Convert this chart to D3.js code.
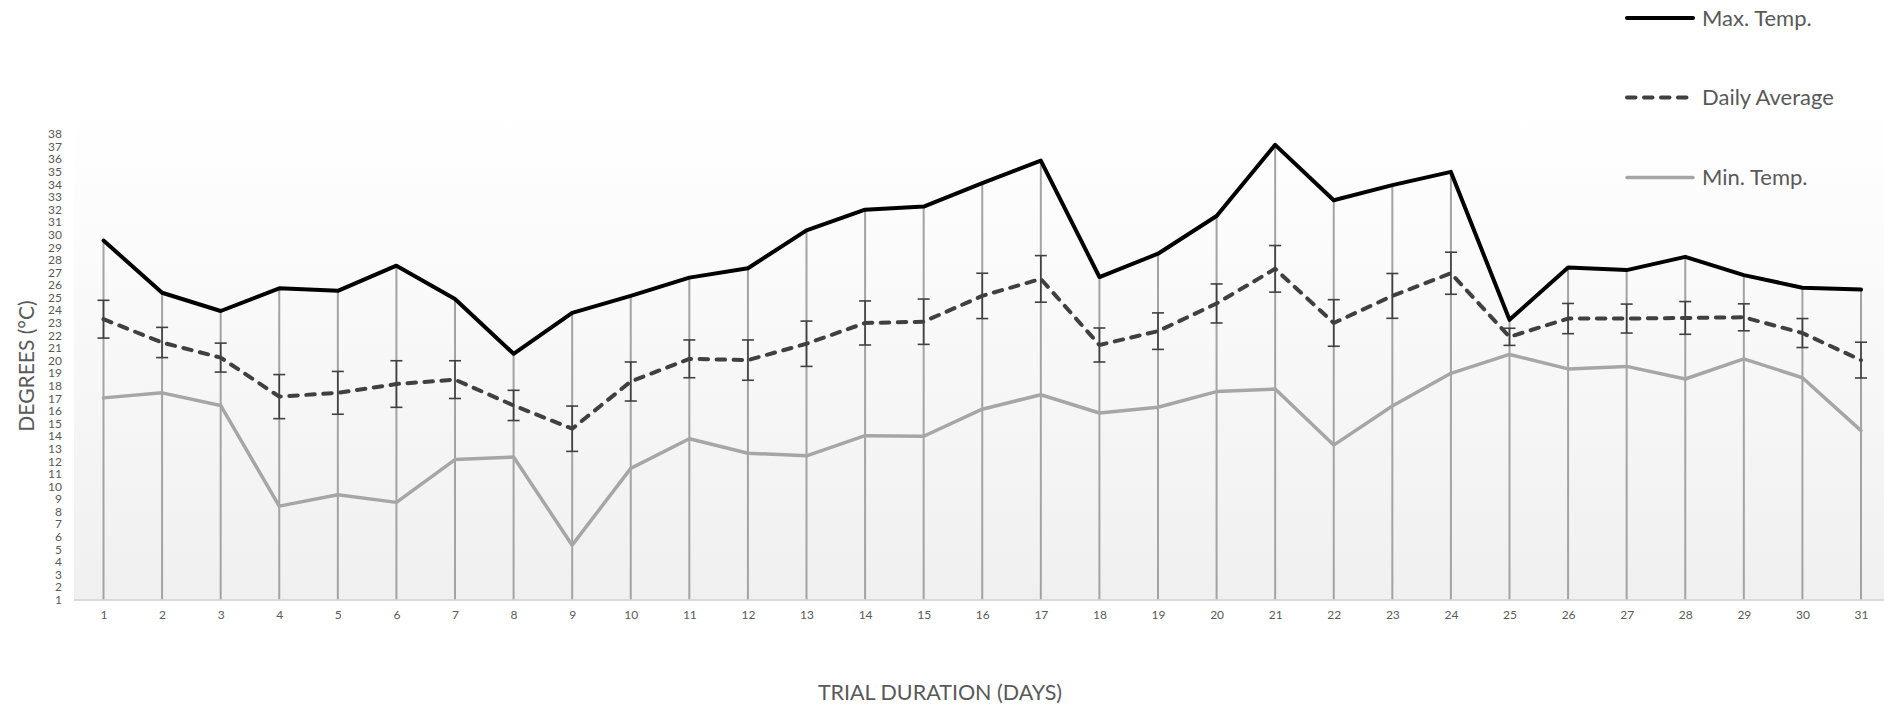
<!DOCTYPE html>
<html>
<head>
<meta charset="utf-8">
<script src="https://cdn.jsdelivr.net/npm/d3@7"></script>
<style>
  html, body { margin: 0; padding: 0; background: #ffffff; }
  svg { display: block; }
  text { font-family: Lato, "Noto Sans", sans-serif; fill: #595959; }
</style>
</head>
<body>
<svg id="chart" width="1884" height="706"></svg>
<script>
// ---- data ----
const days = d3.range(1, 32);
const maxTemp = [29.5, 25.35, 23.9, 25.7, 25.5, 27.5, 24.85, 20.5, 23.75, 25.1,
                 26.55, 27.3, 30.3, 31.95, 32.2, 34.05, 35.85, 26.6, 28.45, 31.45,
                 37.1, 32.7, 33.9, 34.95, 23.2, 27.35, 27.15, 28.2, 26.75, 25.75, 25.6];
const avgTemp = [23.25, 21.4, 20.2, 17.1, 17.4, 18.1, 18.45, 16.4, 14.55, 18.3,
                 20.1, 20.0, 21.3, 22.95, 23.05, 25.1, 26.45, 21.2, 22.3, 24.5,
                 27.25, 22.95, 25.1, 26.9, 21.85, 23.3, 23.3, 23.35, 23.4, 22.15, 20.0];
const avgErr  = [1.5, 1.2, 1.15, 1.75, 1.7, 1.85, 1.5, 1.2, 1.8, 1.55,
                 1.5, 1.6, 1.8, 1.75, 1.8, 1.8, 1.85, 1.35, 1.45, 1.55,
                 1.85, 1.85, 1.78, 1.67, 0.68, 1.2, 1.15, 1.3, 1.07, 1.15, 1.42];
const minTemp = [17.0, 17.4, 16.4, 8.4, 9.3, 8.7, 12.1, 12.3, 5.3, 11.4,
                 13.75, 12.6, 12.4, 14.0, 13.95, 16.1, 17.25, 15.8, 16.25, 17.5,
                 17.7, 13.25, 16.35, 18.95, 20.45, 19.3, 19.5, 18.5, 20.1, 18.6, 14.4];
const yTicks = d3.range(1, 39);
const seriesNames = ["Max. Temp.", "Daily Average", "Min. Temp."];
const xTitle = "TRIAL DURATION (DAYS)";
const yTitle = "DEGREES (°C)";

// ---- layout ----
const svg = d3.select("#chart");
const plotLeft = 74, plotRight = 1884, plotTop = 110, plotBottom = 599.5;

const x = d3.scalePoint().domain(days).range([103.5, 1861]);
const y = d3.scaleLinear().domain([1, 38]).range([599.3, 133.5]);

// background gradient
const defs = svg.append("defs");
const grad = defs.append("linearGradient").attr("id", "bg")
  .attr("x1", 0).attr("y1", 0).attr("x2", 0).attr("y2", 1);
grad.append("stop").attr("offset", "0%").attr("stop-color", "#ffffff");
grad.append("stop").attr("offset", "100%").attr("stop-color", "#f0f0f0");
svg.append("rect").attr("x", plotLeft).attr("y", plotTop)
  .attr("width", plotRight - plotLeft).attr("height", plotBottom - plotTop)
  .attr("fill", "url(#bg)");

// axis line
svg.append("line").attr("x1", plotLeft).attr("x2", plotRight)
  .attr("y1", 600).attr("y2", 600)
  .attr("stroke", "#d9d9d9").attr("stroke-width", 2);

// drop lines
svg.append("g").selectAll("line").data(days).join("line")
  .attr("x1", d => x(d)).attr("x2", d => x(d))
  .attr("y1", (d, i) => y(maxTemp[i])).attr("y2", y(1))
  .attr("stroke", "#a3a3a3").attr("stroke-width", 2);

// y axis ticks
const yAxis = d3.axisLeft(y).tickValues(yTicks).tickSize(0).tickPadding(0);
const gy = svg.append("g").attr("transform", "translate(62,0)").call(yAxis);
gy.select(".domain").remove();
gy.selectAll("text").attr("font-family", "Lato").attr("font-size", 12)
  .attr("fill", "#595959").attr("dy", "0.35em").attr("x", 0);

// x axis ticks
const xAxis = d3.axisBottom(x).tickSize(0).tickPadding(0);
const gx = svg.append("g").attr("transform", "translate(0,615)").call(xAxis);
gx.select(".domain").remove();
gx.selectAll("text").attr("font-family", "Lato").attr("font-size", 12)
  .attr("fill", "#595959").attr("y", 0).attr("dy", "0.35em");

// lines
const line = arr => d3.line().x((d, i) => x(days[i])).y(d => y(d))(arr);

svg.append("path").attr("d", line(minTemp))
  .attr("fill", "none").attr("stroke", "#a6a6a6").attr("stroke-width", 3.5)
  .attr("stroke-linejoin", "round").attr("stroke-linecap", "round");

svg.append("path").attr("d", line(avgTemp))
  .attr("fill", "none").attr("stroke", "#404040").attr("stroke-width", 4)
  .attr("stroke-dasharray", "8.5,8.5")
  .attr("stroke-linejoin", "round").attr("stroke-linecap", "round");

// error bars
const eb = svg.append("g").attr("stroke", "#404040").attr("stroke-width", 1.6);
days.forEach((d, i) => {
  const cx = x(d), t = y(avgTemp[i] + avgErr[i]), b = y(avgTemp[i] - avgErr[i]);
  eb.append("line").attr("x1", cx).attr("x2", cx).attr("y1", t).attr("y2", b);
  eb.append("line").attr("x1", cx - 6).attr("x2", cx + 6).attr("y1", t).attr("y2", t);
  eb.append("line").attr("x1", cx - 6).attr("x2", cx + 6).attr("y1", b).attr("y2", b);
});

svg.append("path").attr("d", line(maxTemp))
  .attr("fill", "none").attr("stroke", "#000000").attr("stroke-width", 4)
  .attr("stroke-linejoin", "round").attr("stroke-linecap", "round");

// legend
const legendStyles = [
  { color: "#000000", dash: null, w: 4 },
  { color: "#404040", dash: "8.5,8.5", w: 4 },
  { color: "#a6a6a6", dash: null, w: 3.5 }
];
const legendY = [18, 97.5, 177.5];
seriesNames.forEach((name, i) => {
  const st = legendStyles[i];
  const l = svg.append("line").attr("x1", 1627).attr("x2", 1693)
    .attr("y1", legendY[i]).attr("y2", legendY[i])
    .attr("stroke", st.color).attr("stroke-width", st.w).attr("stroke-linecap", "round");
  if (st.dash) l.attr("stroke-dasharray", st.dash);
  svg.append("text").attr("x", 1702).attr("y", legendY[i]).attr("dy", "0.35em")
    .attr("font-size", 22).text(name);
});

// axis titles
svg.append("text").attr("x", 940).attr("y", 692).attr("dy", "0.35em")
  .attr("text-anchor", "middle").attr("font-size", 21.5).text(xTitle);
svg.append("text").attr("transform", "translate(27,366) rotate(-90)")
  .attr("dy", "0.35em").attr("text-anchor", "middle").attr("font-size", 21).text(yTitle);
</script>
</body>
</html>
